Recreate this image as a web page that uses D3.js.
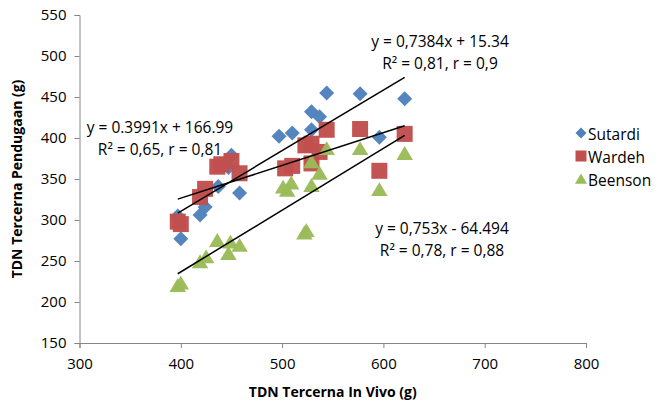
<!DOCTYPE html>
<html>
<head>
<meta charset="utf-8">
<script src="https://cdn.jsdelivr.net/npm/d3@7"></script>
<style>
    body { margin: 0; background: #fff; }
    text { font-family: "Open Sans", sans-serif; fill: #000; }
</style>
</head>
<body>
<svg id="chart" width="664" height="402"></svg>
<script>
// series (x = in vivo, y = pendugaan)
const seriesNames = ['Sutardi', 'Wardeh', 'Beenson'];
const seriesColors = ['#4F81BD', '#C0504D', '#9BBB59'];

const sutardiX = [400, 397, 419, 424, 437, 458, 447, 450, 497, 510, 529, 529, 537, 544, 577, 596, 621];
const sutardiY = [277, 305, 306, 316, 341, 333, 364, 379, 402, 406, 432, 410, 426, 455, 454, 401, 448];

const wardehX = [397, 400, 419, 424, 436, 440, 450, 458, 503, 510, 523, 529, 529, 537, 544, 577, 596, 621];
const wardehY = [298, 295, 328, 338, 365, 368, 372, 357, 363, 366, 391, 393, 369, 383, 410, 411, 360, 405];

const beensonX = [397, 400, 419, 425, 436, 447, 449, 458, 501, 505, 509, 522, 524, 529, 529, 537, 544, 577, 596, 621];
const beensonY = [220, 223, 249, 255, 275, 259, 273, 269, 340, 336, 345, 284, 287, 371, 342, 357, 387, 387, 337, 381];

// trendline coefficients as printed on the chart
const trendSlope = [0.7384, 0.3991, 0.753];
const trendIntercept = [15.34, 166.99, -64.494];
const trendLabels = [
    ['y = 0,7384x + 15.34', 'R\u00B2 = 0,81, r = 0,9'],
    ['y = 0.3991x + 166.99', 'R\u00B2 = 0,65, r = 0,81'],
    ['y = 0,753x - 64.494', 'R\u00B2 = 0,78, r = 0,88']
];

const xTicks = [300, 400, 500, 600, 700, 800];
const yTicks = [150, 200, 250, 300, 350, 400, 450, 500, 550];

const xTitle = 'TDN Tercerna In Vivo (g)';
const yTitle = 'TDN Tercerna Pendugaan (g)';

let svg = d3.select('#chart');
let margin = {top: 15, left: 79.5, right: 78, bottom: 59};
let width = 664 - margin.left - margin.right;
let height = 402 - margin.top - margin.bottom;

let xScale = d3.scaleLinear().domain([300, 800]).range([margin.left, margin.left + width]);
let yScale = d3.scaleLinear().domain([150, 550]).range([margin.top + height, margin.top]);

// axes
let xAxis = d3.axisBottom(xScale).tickValues(xTicks).tickSize(5).tickPadding(10);
let yAxis = d3.axisLeft(yScale).tickValues(yTicks).tickSize(5).tickPadding(8);

let gx = svg.append('g')
    .attr('transform', `translate(0,${margin.top + height})`)
    .call(xAxis);
let gy = svg.append('g')
    .attr('transform', `translate(${margin.left},0)`)
    .call(yAxis);

[gx, gy].forEach(g => {
    g.selectAll('path, line').attr('stroke', '#868686').attr('stroke-width', 1);
    g.selectAll('text').style('font-size', '15px').attr('fill', '#000');
});

// marker shapes, centred on 0,0
const markerPath = {
    Sutardi: s => `M0,${-s}L${s},0L0,${s}L${-s},0Z`,
    Wardeh: s => `M${-s},${-s}H${s}V${s}H${-s}Z`,
    Beenson: s => `M0,${-s}L${s * 1.1},${s * 0.85}H${-s * 1.1}Z`
};
const markerSize = {Sutardi: 7.5, Wardeh: 8, Beenson: 7.5};

let allSeries = [
    sutardiX.map((x, i) => ({x: x, y: sutardiY[i]})),
    wardehX.map((x, i) => ({x: x, y: wardehY[i]})),
    beensonX.map((x, i) => ({x: x, y: beensonY[i]}))
];

let points = svg.append('g');
allSeries.forEach((data, k) => {
    let name = seriesNames[k];
    points.append('g').selectAll('path')
        .data(data)
        .enter()
        .append('path')
        .attr('d', markerPath[name](markerSize[name]))
        .attr('transform', d => `translate(${xScale(d.x)},${yScale(d.y)})`)
        .attr('fill', seriesColors[k])
        .attr('opacity', 0.97);
});

// linear trendlines over each series' x range
let lines = svg.append('g');
allSeries.forEach((data, k) => {
    let ext = d3.extent(data, d => d.x);
    lines.append('line')
        .attr('x1', xScale(ext[0]))
        .attr('y1', yScale(trendSlope[k] * ext[0] + trendIntercept[k]))
        .attr('x2', xScale(ext[1]))
        .attr('y2', yScale(trendSlope[k] * ext[1] + trendIntercept[k]))
        .attr('stroke', '#000')
        .attr('stroke-width', 1.5);
});

// equation labels
const labelPos = [[440, 47], [160, 133], [442, 234]];
trendLabels.forEach((lbl, k) => {
    lbl.forEach((t, j) => {
        svg.append('text')
            .attr('x', labelPos[k][0])
            .attr('y', labelPos[k][1] + j * 22)
            .attr('text-anchor', 'middle')
            .style('font-size', '15.5px')
            .text(t);
    });
});

// axis titles
svg.append('text')
    .attr('x', margin.left + width / 2)
    .attr('y', 397)
    .attr('text-anchor', 'middle')
    .style('font-size', '14px')
    .style('font-weight', 'bold')
    .text(xTitle);

svg.append('text')
    .attr('transform', `translate(22,${margin.top + height / 2}) rotate(-90)`)
    .attr('text-anchor', 'middle')
    .style('font-size', '14px')
    .style('font-weight', 'bold')
    .text(yTitle);

// legend
let legend = svg.append('g');
seriesNames.forEach((name, k) => {
    let ly = 133 + k * 23;
    legend.append('path')
        .attr('d', markerPath[name](5.5))
        .attr('transform', `translate(581,${ly})`)
        .attr('fill', seriesColors[k]);
    legend.append('text')
        .attr('x', 588)
        .attr('y', ly + 2)
        .attr('dy', '0.35em')
        .style('font-size', '15.5px')
        .text(name);
});
</script>
</body>
</html>
